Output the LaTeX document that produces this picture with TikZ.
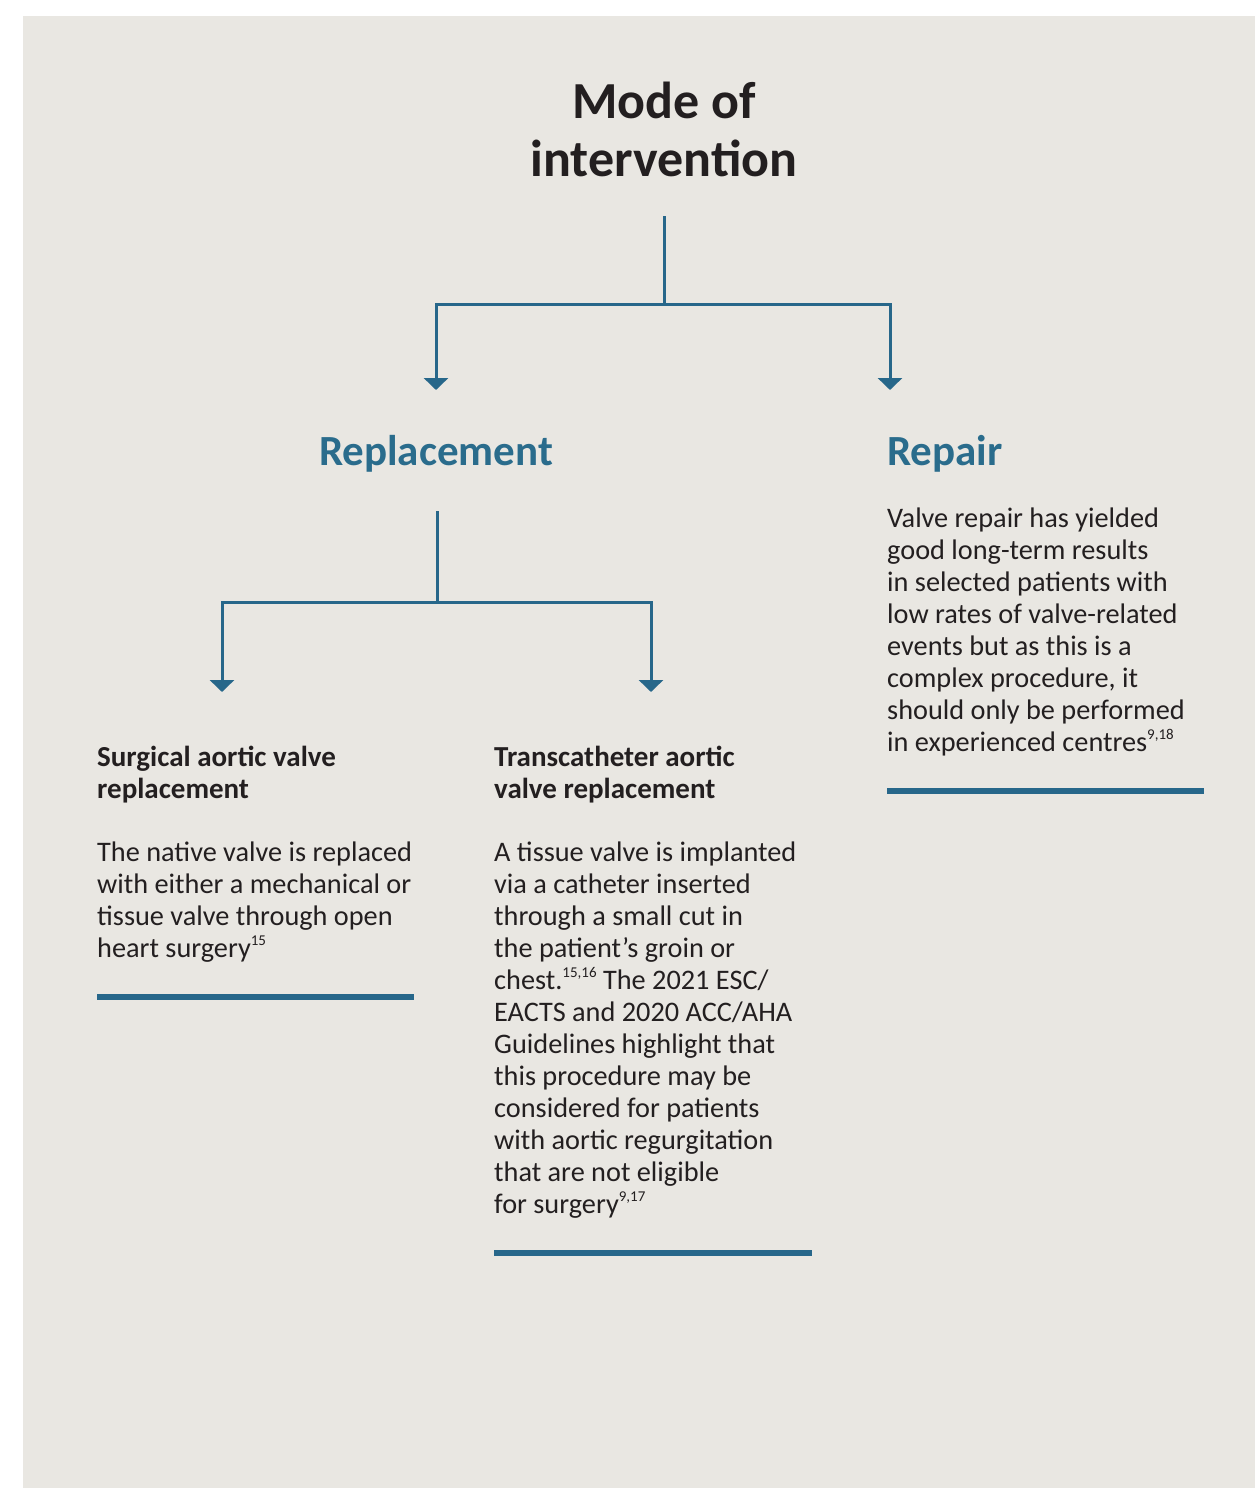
\documentclass[tikz,border=0pt]{standalone}
\usepackage{fontspec}
\setmainfont{Carlito}
\usetikzlibrary{arrows.meta}
\definecolor{bgpaper}{HTML}{E9E7E2}
\definecolor{lineblue}{HTML}{27678A}
\definecolor{headblue}{HTML}{2A6C8C}
\definecolor{ink}{HTML}{231F20}
\newcommand\refsup[1]{\raisebox{0.4em}{\fontsize{15}{15}\selectfont #1}}
\begin{document}
\begin{tikzpicture}[x=1pt,y=-1pt,
  conn/.style={draw=lineblue, line width=3pt, line join=miter, -{Triangle[width=24pt,length=12pt]}},
  plain/.style={draw=lineblue, line width=3pt, line join=miter},
  rulebar/.style={draw=lineblue, line width=6pt},
  titletext/.style={anchor=base, inner sep=0pt, align=center, text=ink, font=\bfseries\fontsize{52}{58}\selectfont},
  headtext/.style={inner sep=0pt, text=headblue, font=\bfseries\fontsize{43}{50}\selectfont},
  subtext/.style={anchor=base west, inner sep=0pt, align=left, text=ink, font=\bfseries\fontsize{29}{32}\selectfont},
  bodytext/.style={anchor=base west, inner sep=0pt, align=left, text=ink, font=\fontsize{28.3}{32}\selectfont}
]
\useasboundingbox (0,0) rectangle (1255,1488);
\fill[bgpaper] (23,16) rectangle (1255,1488);

% title (anchor = baseline of the last line)
\node[titletext] (title) at (664,176) {Mode of\\intervention};

% level 1
\coordinate (t0) at (664,216);
\coordinate (j1) at (664,304);
\coordinate (a1) at (436,390);
\coordinate (a2) at (890,390);
\draw[plain] (t0) -- (j1);
\draw[conn] (j1) -| (a1);
\draw[conn] (j1) -| (a2);

\node[headtext, anchor=base] (repl) at (436,465) {Replacement};
\node[headtext, anchor=base west] (repair) at (887,465) {Repair};

\node[bodytext] (repairbody) at (887,751) {Valve repair has yielded\\good long-term results\\in selected patients with\\low rates of valve-related\\events but as this is a\\complex procedure, it\\should only be performed\\in experienced centres\refsup{9,18}};
\draw[rulebar] (887,791) -- (1204,791);

% level 2
\coordinate (r0) at (437,511);
\coordinate (j2) at (437,602);
\coordinate (b1) at (222,692);
\coordinate (b2) at (651,692);
\draw[plain] (r0) -- (j2);
\draw[conn] (j2) -| (b1);
\draw[conn] (j2) -| (b2);

\node[subtext] (savhead) at (97,798) {Surgical aortic valve\\replacement};
\node[bodytext] (savbody) at (97,957) {The native valve is replaced\\with either a mechanical or\\tissue valve through open\\heart surgery\refsup{15}};
\draw[rulebar] (97,997) -- (414,997);

\node[subtext] (tavhead) at (494,798) {Transcatheter aortic\\valve replacement};
\node[bodytext] (tavbody) at (494,1213) {A tissue valve is implanted\\via a catheter inserted\\through a small cut in\\the patient’s groin or\\chest.\refsup{15,16} The 2021 ESC/\\EACTS and 2020 ACC/AHA\\Guidelines highlight that\\this procedure may be\\considered for patients\\with aortic regurgitation\\that are not eligible\\for surgery\refsup{9,17}};
\draw[rulebar] (494,1253) -- (812,1253);
\end{tikzpicture}
\end{document}
